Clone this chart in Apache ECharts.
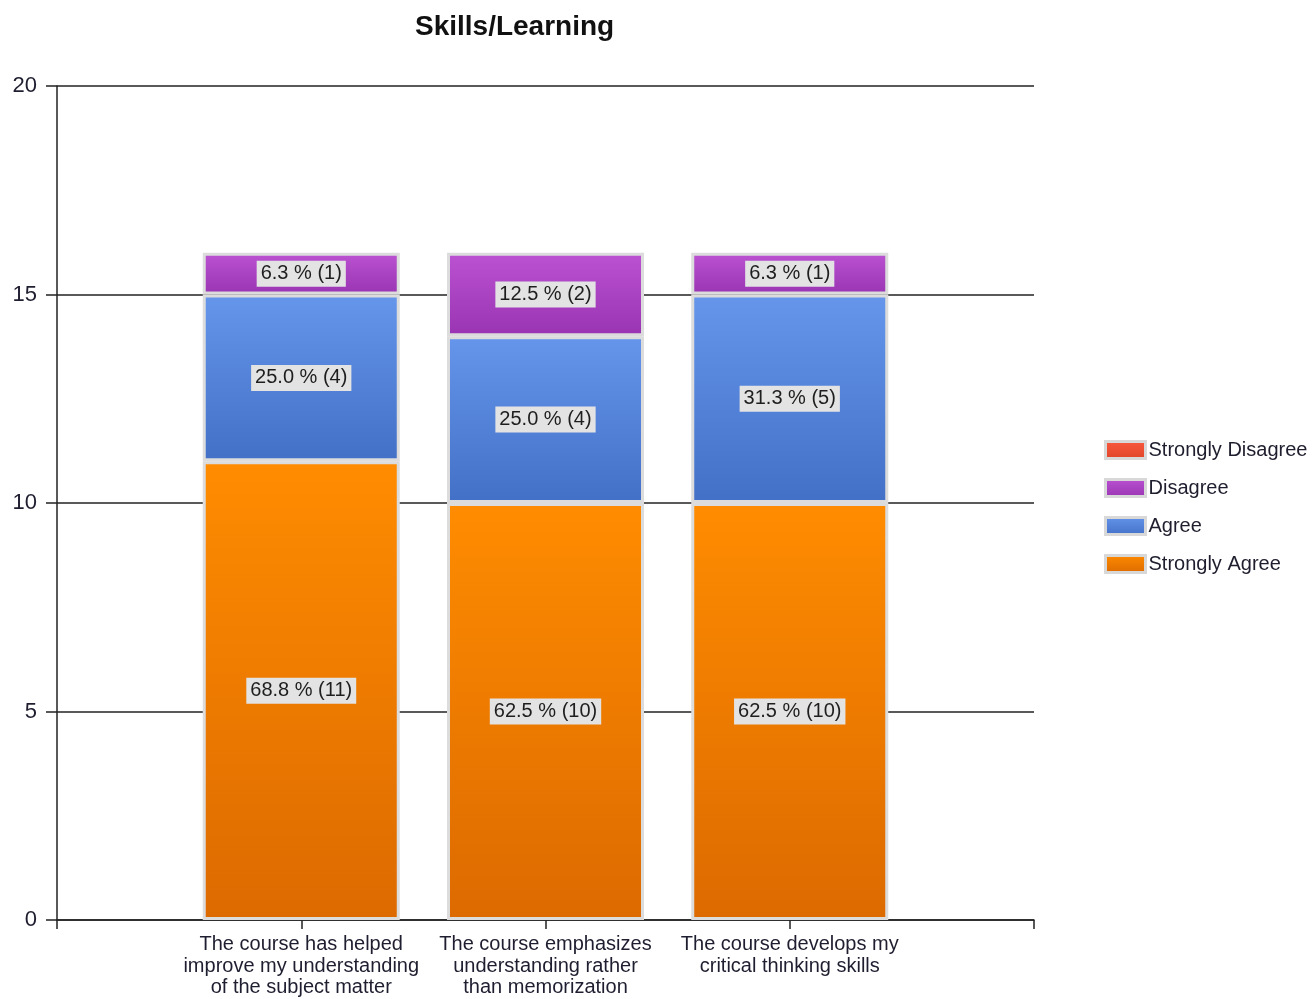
<!DOCTYPE html>
<html>
<head>
<meta charset="utf-8">
<title>Skills/Learning</title>
<script src="https://cdn.jsdelivr.net/npm/echarts@6/dist/echarts.min.js"></script>
<style>
  html, body { margin: 0; padding: 0; background: #fff; }
  #chart { width: 1312px; height: 999px; }
</style>
</head>
<body>
<div id="chart"></div>
<script>
// categories (padded with empty slots so the axis runs past the outer bars)
var categories = [
  '',
  'The course has helped\nimprove my understanding\nof the subject matter',
  'The course emphasizes\nunderstanding rather\nthan memorization',
  'The course develops my\ncritical thinking skills',
  ''
];
var stronglyAgree = ['-', 11, 10, 10, '-'];
var agree = ['-', 4, 4, 5, '-'];
var disagree = ['-', 1, 2, 1, '-'];
var stronglyDisagree = ['-', 0, 0, 0, '-'];
var yTicks = [0, 5, 10, 15, 20];

var font = '"Liberation Sans", Arial, sans-serif';

function total(i) {
  return [stronglyAgree, agree, disagree, stronglyDisagree]
    .reduce(function (s, arr) { return s + (+arr[i] || 0); }, 0);
}

function grad(top, bottom) {
  return new echarts.graphic.LinearGradient(0, 0, 0, 1, [
    { offset: 0, color: top },
    { offset: 1, color: bottom }
  ]);
}

function makeSeries(name, data, top, bottom) {
  return {
    name: name,
    type: 'bar',
    stack: 'all',
    data: data,
    barWidth: 197,
    itemStyle: {
      color: grad(top, bottom),
      borderColor: '#dcdcdc',
      borderWidth: 3
    },
    label: {
      show: true,
      position: 'inside',
      fontFamily: font,
      fontSize: 20,
      color: '#1e1e1e',
      backgroundColor: '#e3e3e3',
      padding: [4, 4, 2, 4],
      formatter: function (p) {
        var pct = (p.value / total(p.dataIndex) * 100).toFixed(1);
        return pct + ' % (' + p.value + ')';
      }
    },
    emphasis: { disabled: true }
  };
}

var sdSeries = makeSeries('Strongly Disagree', stronglyDisagree, '#f85a40', '#e04428');
// zero-height segments: no border or label box, otherwise a blip shows on top
sdSeries.itemStyle.borderWidth = 0;
sdSeries.label.show = false;

var chart = echarts.init(document.getElementById('chart'));
chart.setOption({
  animation: false,
  title: {
    text: 'Skills/Learning',
    left: 410,
    top: 8,
    textStyle: { fontFamily: font, fontSize: 28, fontWeight: 'bold', color: '#111' }
  },
  legend: {
    orient: 'vertical',
    left: 1099,
    top: 435,
    icon: 'rect',
    itemWidth: 40,
    itemHeight: 17,
    itemGap: 18,
    selectedMode: false,
    data: ['Strongly Disagree', 'Disagree', 'Agree', 'Strongly Agree'],
    itemStyle: { borderColor: '#d8d8d8', borderWidth: 3 },
    textStyle: { fontFamily: font, fontSize: 20, color: '#1e1e2e', padding: [0, 0, 0, -2] }
  },
  grid: { left: 57, right: 278, top: 86, bottom: 79 },
  xAxis: {
    type: 'category',
    data: categories,
    boundaryGap: false,
    axisLine: { lineStyle: { color: '#222', width: 1.5 } },
    axisTick: { show: true, length: 9, lineStyle: { color: '#222', width: 1.5 } },
    axisLabel: {
      interval: 0,
      fontFamily: font,
      fontSize: 20,
      lineHeight: 21.5,
      color: '#1e1e30',
      margin: 14
    },
    splitLine: { show: false }
  },
  yAxis: {
    type: 'value',
    min: yTicks[0],
    max: yTicks[yTicks.length - 1],
    interval: 5,
    axisLine: { show: true, lineStyle: { color: '#222', width: 1.5 } },
    axisTick: { show: true, length: 11, lineStyle: { color: '#222', width: 1.5 } },
    axisLabel: { fontFamily: font, fontSize: 22, color: '#1e1e30', margin: 20 },
    splitLine: { show: true, lineStyle: { color: '#222', width: 1.5 } }
  },
  series: [
    makeSeries('Strongly Agree', stronglyAgree, '#ff8c00', '#dc6a00'),
    makeSeries('Agree', agree, '#6596ec', '#4270c6'),
    makeSeries('Disagree', disagree, '#bb52d2', '#9934b2'),
    sdSeries
  ]
});
</script>
</body>
</html>
